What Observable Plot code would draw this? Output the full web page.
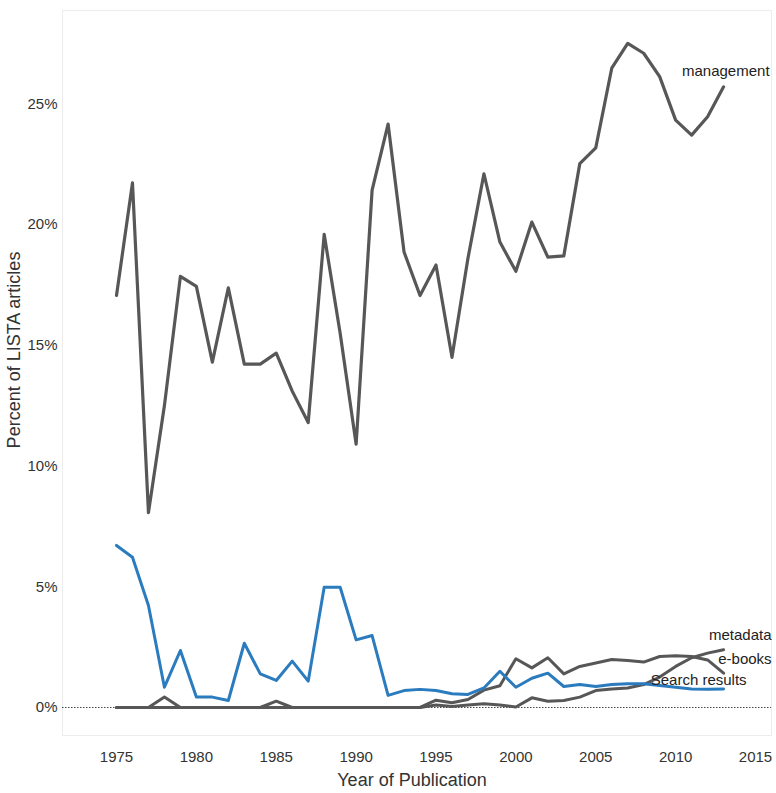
<!DOCTYPE html>
<html>
<head>
<meta charset="utf-8">
<script src="https://cdn.jsdelivr.net/npm/d3@7"></script>
<script src="https://cdn.jsdelivr.net/npm/@observablehq/plot@0.6"></script>
<style>
  body { margin: 0; background: #fff; font-family: "Liberation Sans", Arial, sans-serif; }
</style>
</head>
<body>
<div id="chart"></div>
<script>
// ---- data (percent of LISTA articles) ----
const years = [1975,1976,1977,1978,1979,1980,1981,1982,1983,1984,1985,1986,1987,1988,1989,1990,1991,1992,1993,1994,
               1995,1996,1997,1998,1999,2000,2001,2002,2003,2004,2005,2006,2007,2008,2009,2010,2011,2012,2013];

const management = [17.06,21.72,8.07,12.5,17.85,17.44,14.3,17.38,14.22,14.22,14.67,13.1,11.8,19.59,15.5,10.9,21.42,24.16,18.86,17.06,
                    18.32,14.5,18.6,22.1,19.27,18.06,20.1,18.65,18.7,22.52,23.17,26.47,27.5,27.09,26.12,24.32,23.7,24.46,25.7];

const searchResults = [6.71,6.22,4.22,0.84,2.36,0.43,0.43,0.29,2.66,1.39,1.12,1.92,1.09,4.98,4.98,2.8,2.98,0.5,0.7,0.75,
                       0.7,0.57,0.54,0.81,1.5,0.84,1.21,1.42,0.87,0.95,0.87,0.95,0.98,0.98,0.91,0.84,0.77,0.75,0.77];

const metadata = [0,0,0,0.43,0,0,0,0,0,0,0.26,0,0,0,0,0,0,0,0,0,
                  0.1,0.04,0.1,0.15,0.1,0.02,0.4,0.26,0.29,0.43,0.7,0.77,0.81,0.95,1.26,1.7,2.06,2.25,2.39];

const ebooks = [0,0,0,0,0,0,0,0,0,0,0,0,0,0,0,0,0,0,0,0,
                0.3,0.2,0.33,0.72,0.9,2.02,1.64,2.06,1.39,1.7,1.84,1.99,1.95,1.88,2.11,2.14,2.11,1.97,1.42];

const seriesNames = ["management", "metadata", "e-books", "Search results"];
const xTicks = [1975,1980,1985,1990,1995,2000,2005,2010,2015];
const yTicks = [0,5,10,15,20,25];
const xTitle = "Year of Publication";
const yTitle = "Percent of LISTA articles";

// ---- tables ----
const rows = (name, vals) => years.map((year, i) => ({series: name, year, value: vals[i]}));
const dMan = rows(seriesNames[0], management);
const dMeta = rows(seriesNames[1], metadata);
const dEbk = rows(seriesNames[2], ebooks);
const dSearch = rows(seriesNames[3], searchResults);
const last = a => [a[a.length - 1]];

const gray = "#575757";
const blue = "#2b7bbf";
const font = "Liberation Sans, Arial, sans-serif";

const chart = Plot.plot({
  width: 776,
  height: 793,
  marginLeft: 62,
  marginRight: 5,
  marginTop: 10,
  marginBottom: 58,
  style: {fontFamily: font, fontSize: "15px", background: "#fff", color: "#333"},
  x: {domain: [1971.62, 2016]},
  y: {domain: [-1.16, 28.86]},
  marks: [
    Plot.frame({stroke: "#ececec"}),
    Plot.ruleY([0], {stroke: "#444", strokeWidth: 1, strokeDasharray: "1.5,1.5"}),
    Plot.axisX({ticks: xTicks, tickFormat: d => String(d), tickSize: 0, tickPadding: 16, fontSize: 15, label: null}),
    Plot.axisY({ticks: yTicks, tickFormat: d => d + "%", tickSize: 0, tickPadding: 5, fontSize: 15, label: null}),
    Plot.lineY(dMeta, {x: "year", y: "value", stroke: gray, strokeWidth: 3}),
    Plot.lineY(dEbk, {x: "year", y: "value", stroke: gray, strokeWidth: 3}),
    Plot.lineY(dSearch, {x: "year", y: "value", stroke: blue, strokeWidth: 3}),
    Plot.lineY(dMan, {x: "year", y: "value", stroke: gray, strokeWidth: 3.2}),
    Plot.text(last(dMan), {x: "year", y: "value", text: "series", textAnchor: "end", dx: 46, dy: -16, fontSize: 15, fill: "#222"}),
    Plot.text(last(dMeta), {x: "year", y: "value", text: "series", textAnchor: "end", dx: 48, dy: -15, fontSize: 15, fill: "#222"}),
    Plot.text(last(dEbk), {x: "year", y: "value", text: "series", textAnchor: "end", dx: 48, dy: -14, fontSize: 15, fill: "#222"}),
    Plot.text(last(dSearch), {x: "year", y: "value", text: "series", textAnchor: "end", dx: 23, dy: -9, fontSize: 15, fill: "#222"})
  ]
});

const svg = d3.select(chart);
svg.append("text")
  .attr("transform", "translate(15,350) rotate(-90)")
  .attr("text-anchor", "middle")
  .attr("dominant-baseline", "middle")
  .attr("font-family", font)
  .attr("font-size", 18)
  .attr("fill", "#333")
  .text(yTitle);
svg.append("text")
  .attr("x", 412)
  .attr("y", 781)
  .attr("text-anchor", "middle")
  .attr("dominant-baseline", "middle")
  .attr("font-family", font)
  .attr("font-size", 18)
  .attr("fill", "#333")
  .text(xTitle);

document.getElementById("chart").appendChild(chart);
</script>
</body>
</html>
